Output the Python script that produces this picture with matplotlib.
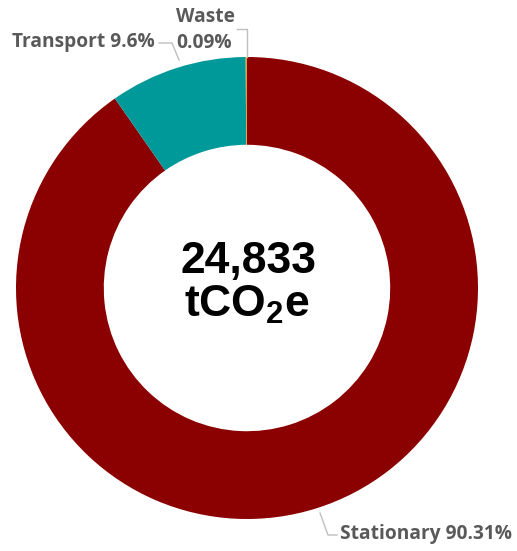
import matplotlib
matplotlib.use('Agg')
from matplotlib import pyplot as plt

# emissions share by source
labels = ['Stationary', 'Transport', 'Waste']
shares = [90.31, 9.6, 0.09]
label_texts = ['Stationary 90.31%', 'Transport 9.6%', 'Waste\n0.09%']
colors = ['#8B0000', '#009999', '#E0A526']
total = '24,833'

plt.rcParams['mathtext.fontset'] = 'custom'
plt.rcParams['mathtext.rm'] = 'Liberation Sans:bold'
plt.rcParams['mathtext.it'] = 'Liberation Sans:bold'
plt.rcParams['mathtext.bf'] = 'Liberation Sans:bold'

W, H = 517, 551
fig = plt.figure(figsize=(W / 100, H / 100), dpi=100)
ax = fig.add_axes([0, 0, 1, 1])

cx, cy, R = 247, 288, 231
ax.pie(shares, colors=colors, startangle=90, counterclock=False,
       center=(cx, -cy), radius=R,
       wedgeprops=dict(width=R * 0.38, edgecolor='none'))
# pie draws with y up; flip patches so we can work in pixel coords (y down)
for p in ax.patches:
    p.set_transform(matplotlib.transforms.Affine2D().scale(1, -1) + ax.transData)
ax.set_xlim(0, W)
ax.set_ylim(H, 0)
ax.set_aspect('equal')
ax.axis('off')

gray = '#595959'
lab_font = dict(family=['Open Sans', 'DejaVu Sans'], weight='bold', fontsize=13.8, color=gray)
lc = '#BFBFBF'

# Transport label
ax.text(155, 42, label_texts[1], ha='right', va='center', **lab_font)
ax.plot([159, 172, 179], [43, 43, 60], color=lc, lw=1)
# Waste label
ax.text(176, 30, label_texts[2], ha='left', va='center', linespacing=1.45, **lab_font)
ax.plot([237, 247, 247], [29, 29, 57], color=lc, lw=1)
# Stationary label
ax.text(340, 534, label_texts[0], ha='left', va='center', **lab_font)
ax.plot([337, 328, 320], [535, 535, 513], color=lc, lw=1)

ax.text(cx + 1, 261, total, ha='center', va='center', fontsize=32,
        fontweight='bold', family='Liberation Sans', color='black')
ax.text(cx, 305, r'tCO$_{\mathbf{2}}$e', ha='center', va='center', fontsize=32,
        fontweight='bold', family='Liberation Sans', color='black')

fig.savefig('out.png', dpi=100)
